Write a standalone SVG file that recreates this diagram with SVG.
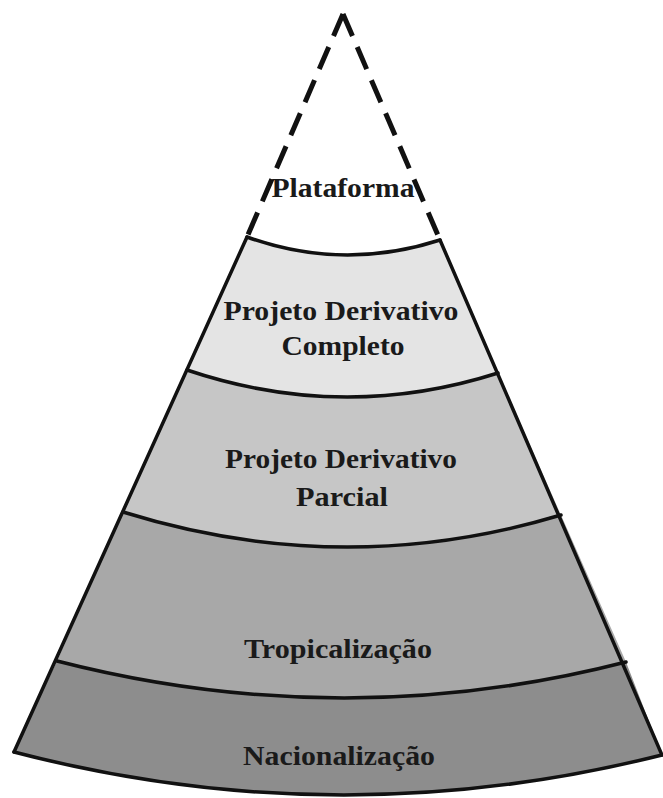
<svg xmlns="http://www.w3.org/2000/svg" width="663" height="798" viewBox="0 0 663 798">
  <style>
    .band { stroke: none; }
    .edge { fill: none; stroke: #111; stroke-width: 3.5; stroke-linecap: round; stroke-linejoin: round; }
    .dash { fill: none; stroke: #111; stroke-width: 5; stroke-dasharray: 24 12; }
    .lbl { font-family: "Liberation Serif", "Times New Roman", serif; font-weight: bold; font-size: 27px; fill: #1a1a1a; text-anchor: middle; }
  </style>
  <rect width="663" height="798" fill="#ffffff"/>

  <g id="plataforma">
    <path class="band" fill="#ffffff" d="M343,14 L440,240 Q343,271.5 247,237 Z"/>
    <path class="dash" d="M343,14 L247,237"/>
    <path class="dash" d="M343,14 L440,240"/>
    <text class="lbl" x="343" y="197" textLength="143" lengthAdjust="spacingAndGlyphs">Plataforma</text>
  </g>

  <g id="completo">
    <path class="band" fill="#e4e4e4" d="M247,237 Q343,271.5 440,240 L498,373 Q343,422.5 187,370 Z"/>
    <text class="lbl" x="341" y="320" textLength="235" lengthAdjust="spacingAndGlyphs">Projeto Derivativo</text>
    <text class="lbl" x="343" y="355" textLength="123" lengthAdjust="spacingAndGlyphs">Completo</text>
  </g>

  <g id="parcial">
    <path class="band" fill="#c6c6c6" d="M187,370 Q343,422.5 498,373 L561,515 Q343,580.5 123,512 Z"/>
    <text class="lbl" x="341" y="468" textLength="232" lengthAdjust="spacingAndGlyphs">Projeto Derivativo</text>
    <text class="lbl" x="342" y="506" textLength="92" lengthAdjust="spacingAndGlyphs">Parcial</text>
  </g>

  <g id="tropicalizacao">
    <path class="band" fill="#a8a8a8" d="M123,512 Q343,580.5 561,515 L626,662 Q343,734.5 57,661 Z"/>
    <text class="lbl" x="338" y="658" textLength="188" lengthAdjust="spacingAndGlyphs">Tropicalização</text>
  </g>

  <g id="nacionalizacao">
    <path class="band" fill="#8d8d8d" d="M57,661 Q343,734.5 626,662 L662,755 Q338,836.5 14,752 Z"/>
    <text class="lbl" x="339" y="765" textLength="192" lengthAdjust="spacingAndGlyphs">Nacionalização</text>
  </g>

  <g id="connectors">
    <path class="edge" d="M247,237 L14,752"/>
    <path class="edge" d="M440,240 L662,755"/>
    <path class="edge" d="M247,237 Q343,271.5 440,240"/>
    <path class="edge" d="M187,370 Q343,422.5 498,373"/>
    <path class="edge" d="M123,512 Q343,580.5 561,515"/>
    <path class="edge" d="M57,661 Q343,734.5 626,662"/>
    <path class="edge" d="M14,752 Q338,836.5 662,755"/>
  </g>
</svg>
